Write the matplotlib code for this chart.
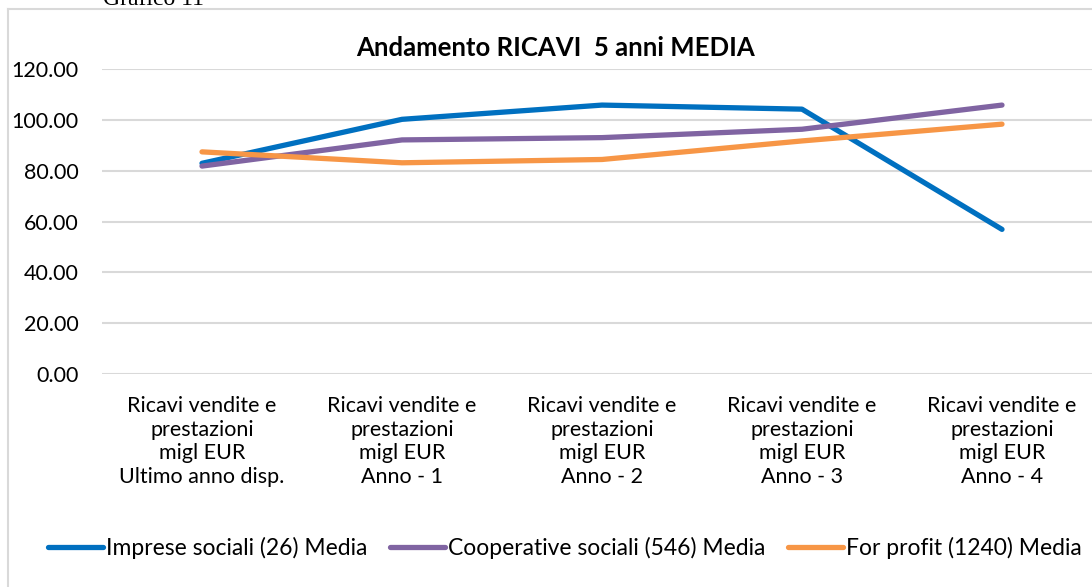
import matplotlib.pyplot as plt
from matplotlib.lines import Line2D
import numpy as np

plt.rcParams['font.family'] = ['Lato', 'DejaVu Sans']

categories = ['Ricavi vendite e\nprestazioni\nmigl EUR\nUltimo anno disp.',
              'Ricavi vendite e\nprestazioni\nmigl EUR\nAnno - 1',
              'Ricavi vendite e\nprestazioni\nmigl EUR\nAnno - 2',
              'Ricavi vendite e\nprestazioni\nmigl EUR\nAnno - 3',
              'Ricavi vendite e\nprestazioni\nmigl EUR\nAnno - 4']
imprese = [82.9, 100.2, 105.8, 104.2, 56.9]
cooperative = [81.8, 92.1, 93.0, 96.3, 105.8]
forprofit = [87.4, 83.1, 84.4, 91.7, 98.3]
labels = ['Imprese sociali (26) Media', 'Cooperative sociali (546) Media', 'For profit (1240) Media']
colors = ['#0070C0', '#8064A2', '#F79646']

W, H = 1092, 587
fig = plt.figure(figsize=(W/100, H/100), dpi=100)
ax = fig.add_axes([102/W, 1-374/H, 1-102/W, (374-69)/H])

x = np.arange(len(categories))
for vals, c, lab in zip([imprese, cooperative, forprofit], colors, labels):
    ax.plot(x, vals, color=c, lw=3.8, solid_capstyle='round', solid_joinstyle='round',
            label=lab, clip_on=False, zorder=3)

ax.set_ylim(0, 120)
ax.set_xlim(-0.5, (W-202)/200)
ax.set_yticks(np.arange(0, 121, 20))
ax.set_yticklabels(['%.2f' % v for v in np.arange(0, 121, 20)], fontsize=15.5)
ax.set_xticks(x)
ax.set_xticklabels(categories, fontsize=15.5, linespacing=1.22)
ax.tick_params(axis='y', length=0, pad=17)
ax.tick_params(axis='x', length=0, pad=16)
for s in ax.spines.values():
    s.set_visible(False)
ax.grid(True, axis='y', color='#D9D9D9', lw=1.5)
ax.set_axisbelow(True)

fig.text(556/W, 1-48/H, 'Andamento RICAVI  5 anni MEDIA', fontsize=18.5, fontweight='bold',
         ha='center', va='center')
fig.text(103/W, 1-5/H, 'Grafico 11', fontsize=17, family='Liberation Serif',
         ha='left', va='baseline')

# chart frame (left and top edge)
fig.add_artist(Line2D([8/W, 8/W], [0, 1-9/H], color='#D9D9D9', lw=1.5))
fig.add_artist(Line2D([8/W, 1], [1-9/H, 1-9/H], color='#D9D9D9', lw=1.5))

handles, labs = ax.get_legend_handles_labels()
fig.legend(handles, labs, loc='center', bbox_to_anchor=(565/W, 1-548/H), ncol=3,
           frameon=False, fontsize=16.5, handlelength=2.4, handletextpad=0.12,
           columnspacing=1.0)

fig.savefig('out.png', dpi=100)
